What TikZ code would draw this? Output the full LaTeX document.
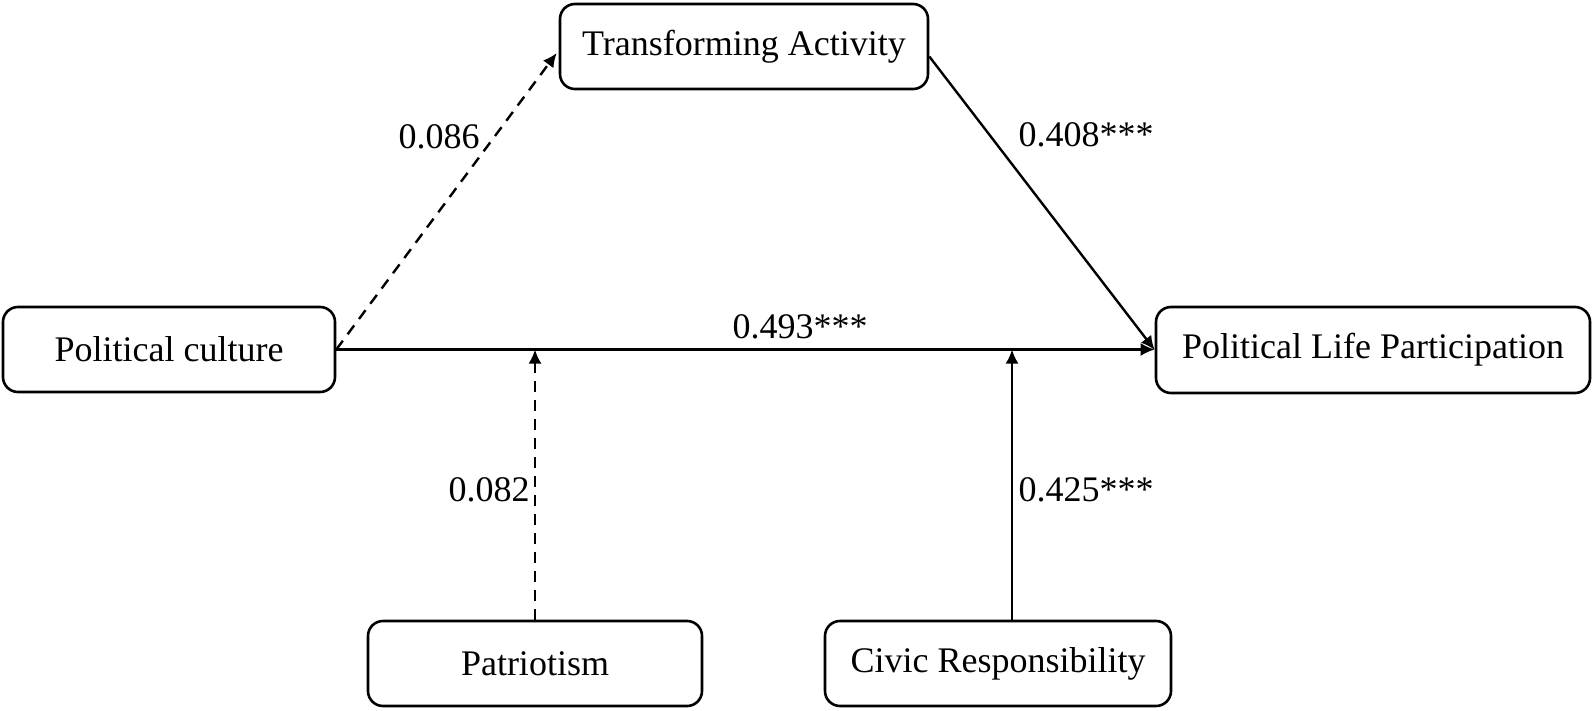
\documentclass[tikz,border=0pt]{standalone}
\usepackage{fontspec}
\setmainfont{Liberation Serif}
\usetikzlibrary{arrows.meta,calc}
\begin{document}
\begin{tikzpicture}[x=1pt,y=-1pt,
  box/.style={draw,line width=2.6pt,rounded corners=15pt,inner sep=0pt,font=\fontsize{36}{40}\selectfont},
  lbl/.style={inner sep=0pt,font=\fontsize{36}{40}\selectfont},
  conn/.style={line width=2.4pt,-{Latex[length=14pt,width=13pt]}},
  dsh/.style={conn,dash pattern=on 11pt off 8pt}]
\useasboundingbox (0,0) rectangle (1594,711);
\node[box,minimum width=332pt,minimum height=85pt] (PC) at (169,349.5) {Political culture};
\node[box,minimum width=368pt,minimum height=85pt] (TA) at (744,46.5) {Transforming Activity};
\node[box,minimum width=434pt,minimum height=86pt] (PLP) at (1373,350) {Political Life Participation};
\node[box,minimum width=334pt,minimum height=85pt] (PAT) at (535,663.5) {Patriotism};
\node[box,minimum width=346pt,minimum height=85pt] (CR) at (998,663.5) {Civic Responsibility};
\coordinate (tain) at ($(TA.west)+(-2,6.5)$);
\coordinate (taout) at ($(TA.east)+(0,10)$);
\coordinate (crtop) at ($(CR.north)+(14,0)$);
\draw[conn] (PC.east) -- (PC.east -| PLP.west);
\draw[dsh] (PC.east) -- (tain);
\draw[conn] (taout) -- (PLP.west);
\draw[dsh] (PAT.north) -- (PAT.north |- PC.east);
\draw[conn] (crtop) -- (crtop |- PC.east);
\node[lbl] (l1) at (439,137) {0.086};
\node[lbl] (l2) at (1086,135) {0.408***};
\node[lbl] (l3) at (800,327) {0.493***};
\node[lbl] (l4) at (489,490) {0.082};
\node[lbl] (l5) at (1086,490) {0.425***};
\end{tikzpicture}
\end{document}
